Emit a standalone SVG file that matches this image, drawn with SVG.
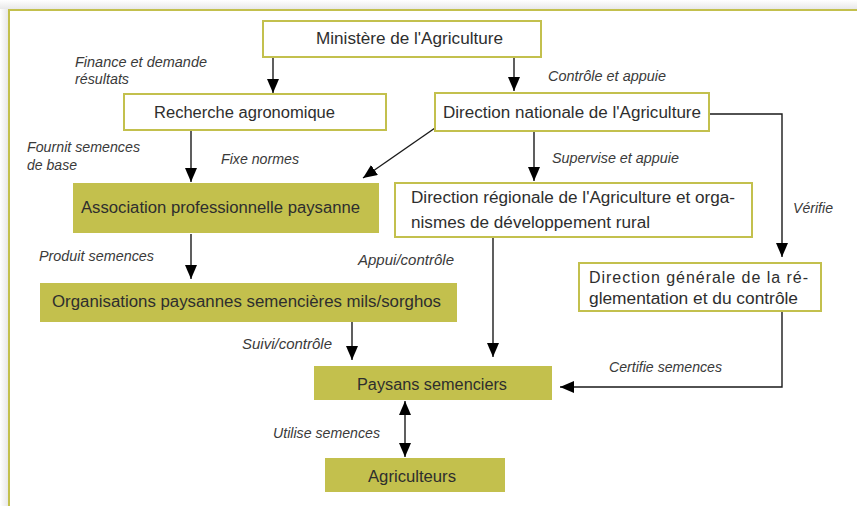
<svg xmlns="http://www.w3.org/2000/svg" width="857" height="506" viewBox="0 0 857 506">
<style>
.box{fill:#ffffff;stroke:#c3c04d;stroke-width:2}
.fill{fill:#c3c04d;stroke:none}
.t{font-family:"Liberation Sans",Arial,sans-serif;font-size:16px;fill:#2e2e2e}
.l{font-family:"Liberation Sans",Arial,sans-serif;font-size:14px;font-style:italic;fill:#3a3a3a}
.c{fill:none;stroke:#1a1a1a;stroke-width:1.4}
</style>
<defs>
<marker id="ah" markerUnits="userSpaceOnUse" markerWidth="14" markerHeight="12" refX="14" refY="6" orient="auto-start-reverse">
<path d="M0,0 L14,6 L0,12 z" fill="#000"/>
</marker>
<linearGradient id="gl" x1="0" y1="0" x2="1" y2="0"><stop offset="0" stop-color="#ffffff"/><stop offset="1" stop-color="#e8e8e8"/></linearGradient>
<linearGradient id="gt" x1="0" y1="0" x2="0" y2="1"><stop offset="0" stop-color="#ffffff"/><stop offset="1" stop-color="#e8e8e8"/></linearGradient>
</defs>
<rect x="0" y="0" width="857" height="506" fill="#ffffff"/>
<rect x="0" y="0" width="8" height="506" fill="url(#gl)"/>
<rect x="0" y="0" width="857" height="9" fill="url(#gt)"/>
<g id="frame"><path d="M9,506 V10 H857" fill="none" stroke="#c3c04d" stroke-width="2"/></g>

<g id="connectors">
<line class="c" x1="273" y1="57" x2="273" y2="93" marker-end="url(#ah)"/>
<line class="c" x1="514" y1="57" x2="514" y2="91" marker-end="url(#ah)"/>
<line class="c" x1="191" y1="130" x2="191" y2="182" marker-end="url(#ah)"/>
<line class="c" x1="435" y1="128" x2="363" y2="178" marker-end="url(#ah)"/>
<line class="c" x1="534" y1="132" x2="534" y2="181" marker-end="url(#ah)"/>
<polyline class="c" points="709,114 782,114 782,257" marker-end="url(#ah)"/>
<line class="c" x1="191" y1="234" x2="191" y2="279" marker-end="url(#ah)"/>
<line class="c" x1="352" y1="322" x2="352" y2="360" marker-end="url(#ah)"/>
<line class="c" x1="493" y1="237" x2="493" y2="357" marker-end="url(#ah)"/>
<polyline class="c" points="782,311 782,387 560,387" marker-end="url(#ah)"/>
<line class="c" x1="405" y1="401" x2="405" y2="457" marker-start="url(#ah)" marker-end="url(#ah)"/>
</g>

<g id="ministere"><rect class="box" x="263" y="21" width="278" height="36"/><text class="t" x="316" y="44" textLength="187" lengthAdjust="spacingAndGlyphs">Ministère de l'Agriculture</text></g>
<g id="recherche"><rect class="box" x="124" y="94" width="262" height="36"/><text class="t" x="154" y="118" textLength="181" lengthAdjust="spacingAndGlyphs">Recherche agronomique</text></g>
<g id="dna"><rect class="box" x="435" y="93" width="274" height="38"/><text class="t" x="443" y="118" textLength="258" lengthAdjust="spacingAndGlyphs">Direction nationale de l'Agriculture</text></g>
<g id="association"><rect class="fill" x="73" y="183" width="306" height="50"/><text class="t" x="81" y="213" textLength="279" lengthAdjust="spacingAndGlyphs">Association professionnelle paysanne</text></g>
<g id="dra"><rect class="box" x="395" y="183" width="357" height="54"/><text class="t" x="411" y="203" textLength="324" lengthAdjust="spacingAndGlyphs">Direction régionale de l'Agriculture et orga-</text><text class="t" x="411" y="228" textLength="239" lengthAdjust="spacingAndGlyphs">nismes de développement rural</text></g>
<g id="organisations"><rect class="fill" x="40" y="283" width="417" height="39"/><text class="t" x="52" y="307" textLength="389" lengthAdjust="spacingAndGlyphs">Organisations paysannes semencières mils/sorghos</text></g>
<g id="dgrc"><rect class="box" x="579" y="263" width="242" height="48"/><text class="t" x="589" y="283" textLength="219" lengthAdjust="spacing">Direction générale de la ré-</text><text class="t" x="589" y="304" textLength="209" lengthAdjust="spacingAndGlyphs">glementation et du contrôle</text></g>
<g id="paysans"><rect class="fill" x="314" y="366" width="238" height="34"/><text class="t" x="357" y="390" textLength="150" lengthAdjust="spacingAndGlyphs">Paysans semenciers</text></g>
<g id="agriculteurs"><rect class="fill" x="325" y="458" width="180" height="34"/><text class="t" x="368" y="482" textLength="88" lengthAdjust="spacingAndGlyphs">Agriculteurs</text></g>

<g id="labels">
<text class="l" x="75" y="67" textLength="132" lengthAdjust="spacingAndGlyphs">Finance et demande</text>
<text class="l" x="75" y="84" textLength="54" lengthAdjust="spacingAndGlyphs">résultats</text>
<text class="l" x="548" y="81" textLength="118" lengthAdjust="spacingAndGlyphs">Contrôle et appuie</text>
<text class="l" x="27" y="152" textLength="113" lengthAdjust="spacingAndGlyphs">Fournit semences</text>
<text class="l" x="27" y="170" textLength="50" lengthAdjust="spacingAndGlyphs">de base</text>
<text class="l" x="221" y="164" textLength="78" lengthAdjust="spacingAndGlyphs">Fixe normes</text>
<text class="l" x="552" y="163" textLength="127" lengthAdjust="spacingAndGlyphs">Supervise et appuie</text>
<text class="l" x="793" y="213" textLength="40" lengthAdjust="spacingAndGlyphs">Vérifie</text>
<text class="l" x="39" y="261" textLength="115" lengthAdjust="spacingAndGlyphs">Produit semences</text>
<text class="l" x="358" y="265" textLength="96" lengthAdjust="spacingAndGlyphs">Appui/contrôle</text>
<text class="l" x="242" y="349" textLength="90" lengthAdjust="spacingAndGlyphs">Suivi/contrôle</text>
<text class="l" x="609" y="372" textLength="113" lengthAdjust="spacingAndGlyphs">Certifie semences</text>
<text class="l" x="273" y="438" textLength="107" lengthAdjust="spacingAndGlyphs">Utilise semences</text>
</g>
</svg>
